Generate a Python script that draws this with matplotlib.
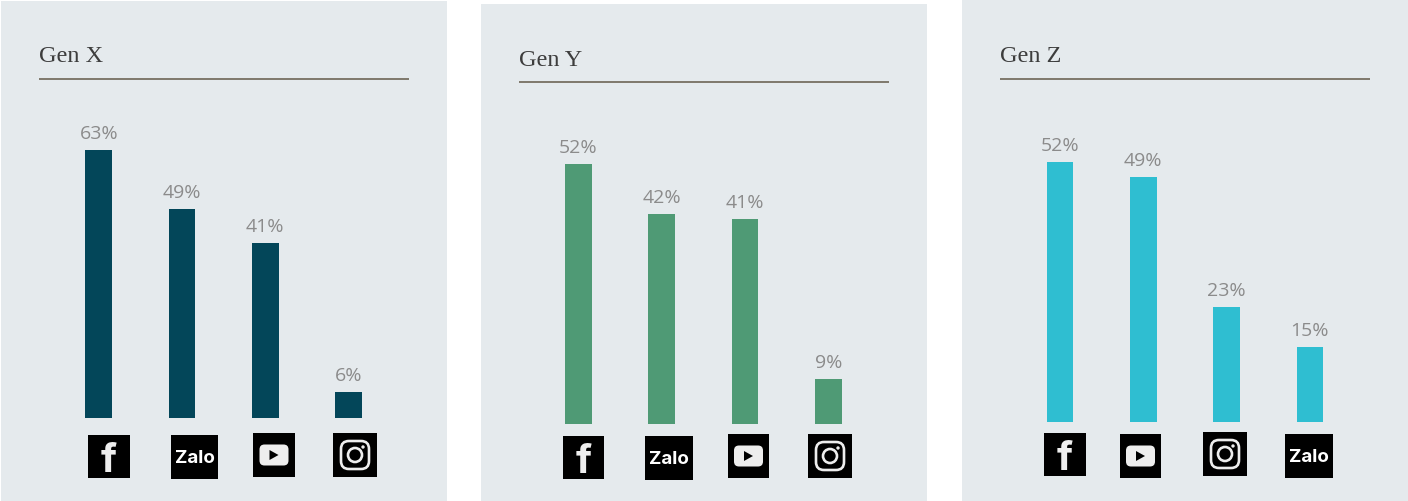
import matplotlib
matplotlib.use("Agg")
import matplotlib.pyplot as plt
from matplotlib.patches import Rectangle, FancyBboxPatch, Circle, Polygon

W, H = 1408, 502

titles = ["Gen X", "Gen Y", "Gen Z"]
platforms_x = ["facebook", "zalo", "youtube", "instagram"]
platforms_y = ["facebook", "zalo", "youtube", "instagram"]
platforms_z = ["facebook", "youtube", "instagram", "zalo"]
values_x = [63, 49, 41, 6]
values_y = [52, 42, 41, 9]
values_z = [52, 49, 23, 15]
colors = ["#034659", "#4f9a75", "#2fbed1"]

BG = "#e5eaed"
RULE = "#7f786c"
LABEL = "#8b8b8b"

# panel: left, top, right, first bar centre, baseline y, px per percent
panels = [(1, 2, 447, 98.7, 418.5, 4.25),
          (481, 5, 927, 578.5, 425, 5.0),
          (962, 1, 1408, 1060, 423, 5.0)]
rules = [(39, 409, 80), (519, 889, 83), (1000, 1370, 80)]
title_pos = [(39, 62), (519, 66), (1000, 62)]
STEP = 83.3

# icon boxes: x0, y0, x1, y1 in pixels
icons_x = [(88, 436, 130, 479), (171, 436, 218, 480), (253, 434, 295, 478), (333, 434, 377, 478)]
icons_y = [(563, 437, 604, 480), (645, 437, 693, 481), (728, 435, 769, 479), (808, 435, 852, 479)]
icons_z = [(1044, 434, 1086, 477), (1120, 435, 1161, 479), (1203, 433, 1247, 477), (1285, 435, 1333, 479)]


def draw_icon(fig, name, box):
    x0, y0, x1, y1 = box
    w, h = x1 - x0, y1 - y0
    cx, cy = (x0 + x1) / 2, (y0 + y1) / 2
    ov = fig.add_axes([0, 0, 1, 1], facecolor="none")
    ov.set_xlim(0, W)
    ov.set_ylim(H, 0)
    ov.axis("off")
    ov.add_patch(Rectangle((x0, y0), w, h, fc="black", ec="none"))
    if name == "facebook":
        ov.text(cx, cy + 15, "f", color="#eeeeee", fontsize=29, fontweight="bold",
                family="Inter", ha="center", va="baseline")
    elif name == "zalo":
        ov.text(cx, cy + 1, "Zalo", color="white", fontsize=13.5, fontweight="bold",
                family="Inter", ha="center", va="center")
    elif name == "youtube":
        ov.add_patch(FancyBboxPatch((cx - 12, cy - 8), 24, 16, boxstyle="round,pad=2.5,rounding_size=5",
                                    fc="#eeeeee", ec="none"))
        ov.add_patch(Polygon([(cx - 4.5, cy - 5), (cx - 4.5, cy + 5), (cx + 4.5, cy)], fc="black", ec="none"))
    else:
        ov.add_patch(FancyBboxPatch((cx - 12, cy - 12), 24, 24, boxstyle="round,pad=2,rounding_size=8",
                                    fc="none", ec="#eeeeee", lw=1.9))
        ov.add_patch(Circle((cx, cy), 7, fc="none", ec="#eeeeee", lw=1.9))
        ov.add_patch(Circle((cx + 8, cy - 8), 1.7, fc="#eeeeee", ec="none"))


fig = plt.figure(figsize=(W / 100, H / 100), dpi=100, facecolor="white")
bg = fig.add_axes([0, 0, 1, 1], facecolor="none")
bg.set_xlim(0, W)
bg.set_ylim(H, 0)
bg.axis("off")

all_values = [values_x, values_y, values_z]
all_platforms = [platforms_x, platforms_y, platforms_z]
all_icons = [icons_x, icons_y, icons_z]

for i in range(3):
    left, top, right, c0, base, scale = panels[i]
    bg.add_patch(Rectangle((left, top), right - left, H - top, fc=BG, ec="none"))
    r0, r1, ry = rules[i]
    bg.plot([r0, r1], [ry, ry], color=RULE, lw=1.4, solid_capstyle="butt")
    bg.text(title_pos[i][0], title_pos[i][1], titles[i], family="Liberation Serif", fontsize=17.5,
            color="#3d3d3d", va="baseline", ha="left")

    # axes box runs half a step either side of the outer bars
    ax_l = c0 - STEP / 2
    ax_w = STEP * 4
    ax_h = 320
    ax = fig.add_axes([ax_l / W, (H - base) / H, ax_w / W, ax_h / H], facecolor="none")
    vals = all_values[i]
    ax.bar(range(len(vals)), vals, width=0.32, color=colors[i])
    for k, v in enumerate(vals):
        ax.annotate(f"{v}%", (k, v), xytext=(0, 8.6), textcoords="offset points", ha="center", va="baseline",
                    family="Open Sans", fontsize=14, color=LABEL)
    ax.set_xlim(-0.5, 3.5)
    ax.set_ylim(0, ax_h / scale)
    ax.axis("off")

    for name, box in zip(all_platforms[i], all_icons[i]):
        draw_icon(fig, name, box)

fig.savefig("out.png", dpi=100)
